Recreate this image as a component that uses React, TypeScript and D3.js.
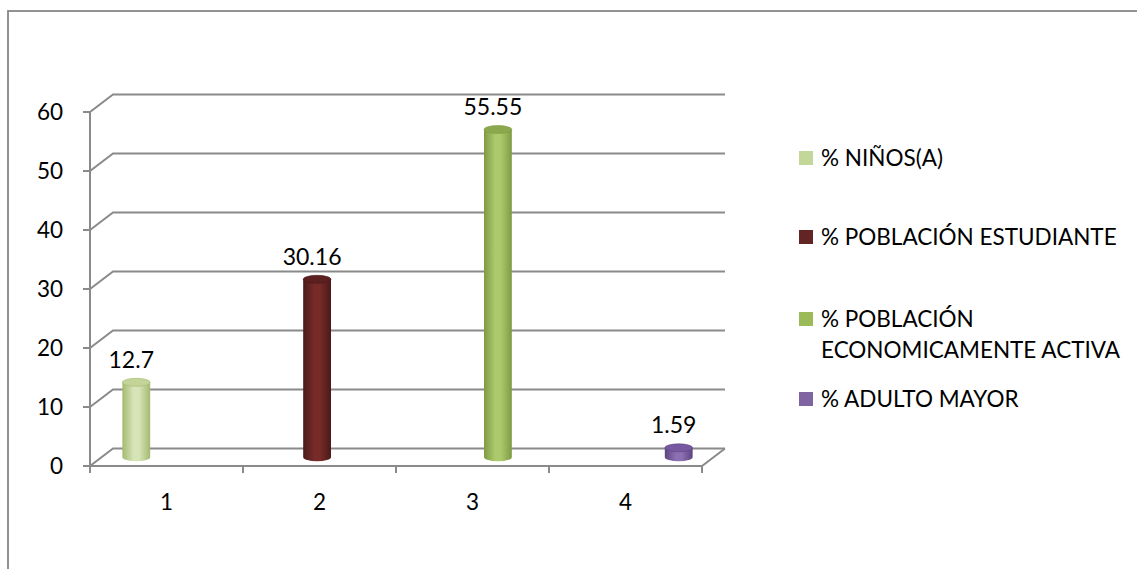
import React from "react";
import * as d3 from "d3";

const categories = ["1", "2", "3", "4"];
const seriesNames = [
  "% NIÑOS(A)",
  "% POBLACIÓN ESTUDIANTE",
  "% POBLACIÓN ECONOMICAMENTE ACTIVA",
  "% ADULTO MAYOR",
];
const legendLines = [
  ["% NIÑOS(A)"],
  ["% POBLACIÓN ESTUDIANTE"],
  ["% POBLACIÓN", "ECONOMICAMENTE ACTIVA"],
  ["% ADULTO MAYOR"],
];
const values = [12.7, 30.16, 55.55, 1.59];
const valueLabels = ["12.7", "30.16", "55.55", "1.59"];
const yTicks = [0, 10, 20, 30, 40, 50, 60];
const legendColors = ["#C4D79B", "#632523", "#9BBB59", "#8064A2"];
const cylEdge = ["#a3ba6f", "#4a1a19", "#7e9b42", "#5d4580"];
const cylMid = ["#d6e4b8", "#772b29", "#acca6c", "#8d70b3"];
const cylTop = ["#c2d497", "#5b201f", "#8ba84f", "#7659a0"];

const W = 1137;
const H = 569;
const FONT = "Lato, 'Open Sans', sans-serif";

export default function App() {
  const x0 = 90, x1 = 702;
  const dx = 23, dy = -17.5;
  const y = d3.scaleLinear().domain([0, 60]).range([466, 112]);
  const xc = d3.scaleBand<string>().domain(categories).range([x0, x1]).padding(0);
  const xs = d3
    .scaleBand<number>()
    .domain(d3.range(seriesNames.length))
    .range([0, xc.bandwidth()])
    .paddingInner(0)
    .paddingOuter(0.75);
  const bw = xs.bandwidth();
  const rx = bw / 2;
  const ry = 4;
  const gridStroke = "#8a8a8a";
  const boundaries = [...categories.map((c) => xc(c) as number), x1];

  return (
    <svg
      width={W}
      height={H}
      style={{ position: "absolute", left: 0, top: 0, background: "#fff" }}
      fontFamily={FONT}
    >
      <defs>
        {values.map((_, i) => (
          <linearGradient key={i} id={`cg${i}`} x1="0" x2="1" y1="0" y2="0">
            <stop offset="0" stopColor={cylEdge[i]} />
            <stop offset="0.4" stopColor={cylMid[i]} />
            <stop offset="0.6" stopColor={cylMid[i]} />
            <stop offset="1" stopColor={cylEdge[i]} />
          </linearGradient>
        ))}
      </defs>
      <rect x={8} y={11} width={W + 20} height={H + 20} fill="none" stroke="#878787" strokeWidth={1.8} />

      {yTicks.map((t) => (
        <path
          key={t}
          d={`M${x0},${y(t)} L${x0 + dx},${y(t) + dy} L${x1 + dx},${y(t) + dy}`}
          fill="none"
          stroke={gridStroke}
          strokeWidth={2}
        />
      ))}
      <path
        d={`M${x0},${y(0)} L${x1},${y(0)} L${x1 + dx},${y(0) + dy}`}
        fill="none"
        stroke={gridStroke}
        strokeWidth={2}
      />
      <line x1={x0} x2={x0} y1={y(60)} y2={y(0) + 7} stroke={gridStroke} strokeWidth={2} />
      {yTicks.map((t) => (
        <g key={t}>
          <line x1={x0 - 7} x2={x0} y1={y(t)} y2={y(t)} stroke={gridStroke} strokeWidth={2} />
          <text x={63} y={y(t)} dy="0.36em" textAnchor="end" fontSize={22.5} fill="#000">
            {t}
          </text>
        </g>
      ))}
      {boundaries.map((b, i) => (
        <line key={i} x1={b} x2={b} y1={y(0)} y2={y(0) + 7} stroke={gridStroke} strokeWidth={2} />
      ))}
      {categories.map((c) => (
        <text
          key={c}
          x={(xc(c) as number) + xc.bandwidth() / 2}
          y={502}
          dy="0.36em"
          textAnchor="middle"
          fontSize={22.5}
          fill="#000"
        >
          {c}
        </text>
      ))}

      {values.map((v, i) => {
        const cat = categories[i];
        const cx = (xc(cat) as number) + (xs(i) as number) + bw / 2 + dx / 2;
        const yb = y(0) + dy / 2;
        const yt = y(v) + dy / 2;
        return (
          <g key={i}>
            <path
              d={`M${cx - rx},${yt} L${cx - rx},${yb} A${rx},${ry} 0 0 0 ${cx + rx},${yb} L${cx + rx},${yt} Z`}
              fill={`url(#cg${i})`}
            />
            <ellipse cx={cx} cy={yt} rx={rx} ry={ry} fill={cylTop[i]} stroke={cylEdge[i]} strokeWidth={0.6} />
            <text x={cx - 5} y={yt - 23} dy="0.36em" textAnchor="middle" fontSize={23} fill="#000">
              {valueLabels[i]}
            </text>
          </g>
        );
      })}

      {[158, 237, 319, 399].map((cy, i) => (
        <g key={i}>
          <rect x={799} y={cy - 7} width={14} height={14} fill={legendColors[i]} />
          {legendLines[i].map((line, j) => (
            <text key={j} x={821} y={cy + j * 31} dy="0.36em" fontSize={22.5} fill="#000">
              {line}
            </text>
          ))}
        </g>
      ))}
    </svg>
  );
}
